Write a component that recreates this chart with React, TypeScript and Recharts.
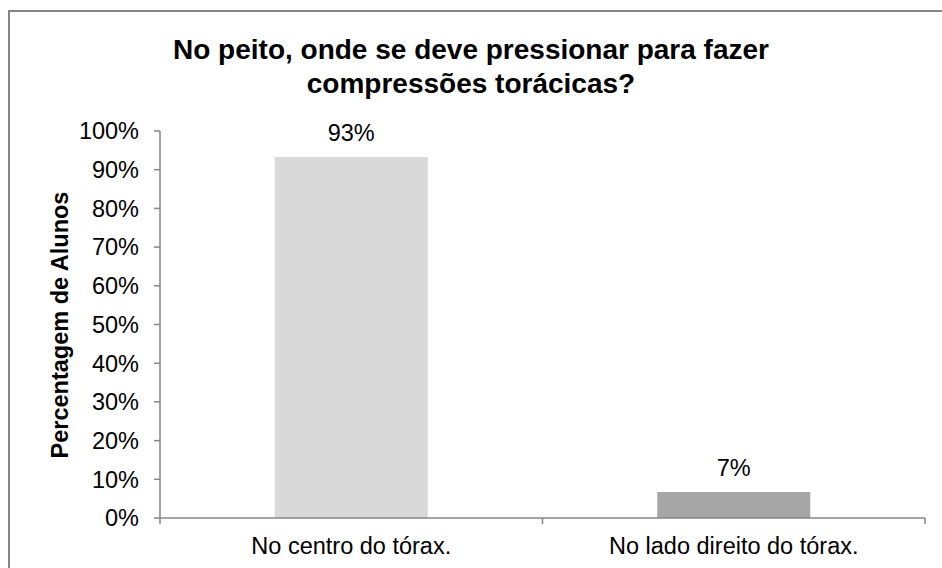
import React from 'react';
import { BarChart, Bar, XAxis, YAxis, Cell, LabelList } from 'recharts';

const categories = ['No centro do tórax.', 'No lado direito do tórax.'];
const percentages = [93.3, 6.7];
const barColors = ['#d9d9d9', '#a6a6a6'];
const yTicks = [0, 10, 20, 30, 40, 50, 60, 70, 80, 90, 100];
const titleLines = ['No peito, onde se deve pressionar para fazer', 'compressões torácicas?'];
const yAxisTitle = 'Percentagem de Alunos';

const data = categories.map((c, i) => ({ category: c, value: percentages[i] }));

const W = 942;
const H = 568;
const FONT = '"Liberation Sans", Arial, sans-serif';
const AXIS_COLOR = '#868686';
const Y_AXIS_WIDTH = 160;
const MARGIN = { top: 131, right: 17, bottom: 20, left: 0 };
const X_AXIS_HEIGHT = 30;
const HALF_BAND = (W - MARGIN.right - Y_AXIS_WIDTH) / categories.length / 2;
const TEXT_SIZE = 23.5;

const XTick = (props: any) => {
  const { x, y, payload, index } = props;
  const last = index === categories.length - 1;
  return (
    <g>
      <line x1={x - HALF_BAND} x2={x - HALF_BAND} y1={y} y2={y + 6} stroke={AXIS_COLOR} strokeWidth={1.5} />
      {last && (
        <line x1={x + HALF_BAND} x2={x + HALF_BAND} y1={y} y2={y + 6} stroke={AXIS_COLOR} strokeWidth={1.5} />
      )}
      <text x={x} y={y + 36} textAnchor="middle" fill="#000" fontSize={TEXT_SIZE} fontFamily={FONT}>
        {payload.value}
      </text>
    </g>
  );
};

export default function App() {
  return (
    <div style={{ position: 'absolute', left: 0, top: 0, width: W, height: H, background: '#fff', overflow: 'hidden', fontFamily: FONT }}>
      <div
        style={{
          position: 'absolute',
          left: 8,
          top: 10,
          width: W + 20,
          height: H + 20,
          border: `2px solid ${AXIS_COLOR}`,
          boxSizing: 'border-box',
        }}
      />
      <div
        style={{
          position: 'absolute',
          left: 0,
          top: 33,
          width: W,
          textAlign: 'center',
          fontSize: 28,
          fontWeight: 'bold',
          lineHeight: '34px',
          color: '#000',
        }}
      >
        {titleLines.map((t) => (
          <div key={t}>{t}</div>
        ))}
      </div>
      <div
        style={{
          position: 'absolute',
          left: 60,
          top: 325,
          transform: 'translate(-50%, -50%) rotate(-90deg)',
          whiteSpace: 'nowrap',
          fontSize: 23.5,
          fontWeight: 'bold',
          color: '#000',
        }}
      >
        {yAxisTitle}
      </div>
      <div style={{ position: 'absolute', left: 0, top: 0 }}>
        <BarChart width={W} height={H} data={data} margin={MARGIN} barCategoryGap="30%">
          <XAxis
            dataKey="category"
            height={X_AXIS_HEIGHT}
            axisLine={{ stroke: AXIS_COLOR, strokeWidth: 1.5 }}
            tickLine={false}
            tickSize={0}
            tickMargin={0}
            tick={<XTick />}
            interval={0}
          />
          <YAxis
            width={Y_AXIS_WIDTH}
            domain={[0, 100]}
            ticks={yTicks}
            interval={0}
            tickFormatter={(v: number) => `${v}%`}
            axisLine={{ stroke: AXIS_COLOR, strokeWidth: 1.5 }}
            tickLine={{ stroke: AXIS_COLOR, strokeWidth: 1.5 }}
            tickSize={6}
            tickMargin={15}
            tick={{ fill: '#000', fontSize: TEXT_SIZE, fontFamily: FONT }}
          />
          <Bar dataKey="value" isAnimationActive={false}>
            {data.map((d, i) => (
              <Cell key={d.category} fill={barColors[i]} />
            ))}
            <LabelList
              dataKey="value"
              position="top"
              offset={16}
              formatter={(v: any) => `${Math.round(Number(v))}%`}
              style={{ fill: '#000', fontSize: TEXT_SIZE, fontFamily: FONT }}
            />
          </Bar>
        </BarChart>
      </div>
    </div>
  );
}
